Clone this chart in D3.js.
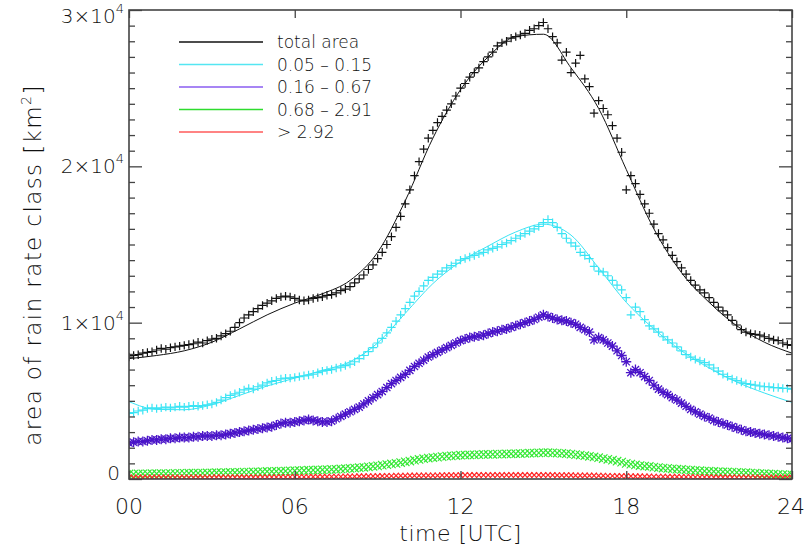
<!DOCTYPE html>
<html>
<head>
<meta charset="utf-8">
<script src="https://cdn.jsdelivr.net/npm/d3@7/dist/d3.min.js"></script>
<style>
  html, body { margin: 0; padding: 0; background: #fff; }
  svg { display: block; }
  text { font-family: "DejaVu Sans", sans-serif; font-weight: 200; fill: #111; }
</style>
</head>
<body>
<svg id="chart" width="807" height="554"></svg>
<script>
// Rain-rate class areas, sampled every 10 minutes from 00 to 24 UTC (145 samples)
const stepMinutes = 10;

const totalArea = [
  7800, 7900, 7950, 8050, 8100, 8150,
  8250, 8350, 8300, 8400, 8450, 8500,
  8550, 8600, 8650, 8750, 8700, 8850,
  8950, 9000, 9150, 9300, 9450, 9700,
  10000, 10300, 10500, 10700, 10900, 11100,
  11250, 11400, 11550, 11650, 11700, 11650,
  11550, 11450, 11400, 11450, 11550, 11600,
  11650, 11750, 11800, 11900, 12050, 12150,
  12300, 12550, 12800, 13050, 13400, 13700,
  14100, 14500, 15000, 15500, 16100, 16800,
  17600, 18500, 19400, 20300, 21100, 21800,
  22300, 22800, 23200, 23600, 24000, 24500,
  25000, 25300, 25700, 26000, 26300, 26700,
  27000, 27300, 27700, 27900, 28000, 28200,
  28300, 28400, 28500, 28700, 28800, 29000,
  29200, 28800, 28300, 27900, 26800, 27300,
  26000, 26600, 27100, 25600, 25100, 23400,
  24200, 23700, 23300, 22600, 21800, 20900,
  18500, 19400, 18900, 18200, 17600, 17000,
  16300, 15700, 15300, 14800, 14300, 13900,
  13500, 13100, 12700, 12400, 12100, 11900,
  11600, 11300, 11000, 10750, 10500, 10150,
  9850, 9550, 9400, 9300, 9250, 9200,
  9100, 9000, 8900, 8850, 8700, 8600,
  8550
];

const class005to015 = [
  4200, 4250, 4350, 4400, 4500, 4550,
  4500, 4550, 4600, 4550, 4600, 4650,
  4600, 4650, 4700, 4650, 4700, 4750,
  4800, 4900, 5050, 5200, 5350, 5450,
  5550, 5700, 5800, 5750, 5900, 6000,
  6150, 6250, 6300, 6400, 6450, 6450,
  6500, 6550, 6600, 6650, 6700, 6800,
  6900, 6950, 7000, 7100, 7150, 7250,
  7350, 7500, 7700, 7900, 8150, 8400,
  8700, 9000, 9350, 9700, 10100, 10500,
  10900, 11300, 11700, 12000, 12350, 12700,
  12900, 13100, 13300, 13500, 13650, 13800,
  14000, 14100, 14200, 14300, 14400, 14500,
  14650, 14750, 14850, 15000, 15100, 15250,
  15400, 15550, 15700, 15850, 16000, 16150,
  16400, 16600, 16400, 16100, 15700, 15400,
  15100, 14900, 14500, 14300, 14100, 13600,
  13300, 13250, 13000, 12700, 12400, 12100,
  11600, 10500, 11000, 10700, 10200, 9800,
  9600, 9400, 9100, 8900, 8700, 8450,
  8200, 7950, 7800, 7650, 7550, 7450,
  7300, 7100, 6900, 6700, 6550, 6400,
  6300, 6200, 6100, 6050, 6000, 5950,
  5900, 5900, 5850, 5850, 5800, 5800,
  5750
];

const class016to067 = [
  2300, 2350, 2400, 2400, 2450, 2500,
  2500, 2550, 2550, 2600, 2600, 2650,
  2650, 2650, 2700, 2700, 2750, 2750,
  2750, 2800, 2800, 2850, 2900, 2950,
  3000, 3050, 3100, 3150, 3200, 3250,
  3300, 3350, 3450, 3550, 3600, 3600,
  3650, 3700, 3750, 3800, 3750, 3700,
  3650, 3650, 3700, 3850, 4000, 4150,
  4300, 4450, 4600, 4800, 5000, 5200,
  5400, 5600, 5850, 6100, 6300, 6500,
  6700, 6950, 7200, 7400, 7600, 7800,
  7950, 8100, 8250, 8400, 8550, 8700,
  8850, 8950, 9050, 9100, 9150, 9200,
  9300, 9400, 9450, 9550, 9600, 9700,
  9800, 9900, 10000, 10100, 10200, 10350,
  10500, 10400, 10300, 10200, 10150, 10100,
  10000, 9900, 9700, 9550, 9400, 8900,
  9050, 8900, 8700, 8500, 8200, 7900,
  7500, 6800, 7000, 6800, 6550, 6300,
  6000, 5750, 5550, 5400, 5200, 5050,
  4850, 4650, 4450, 4300, 4150, 4000,
  3900, 3750, 3650, 3550, 3450, 3350,
  3250, 3150, 3050, 3000, 2950, 2900,
  2850, 2800, 2750, 2700, 2650, 2600,
  2550
];

const class068to291 = [
  320, 310, 320, 330, 330, 340,
  340, 350, 340, 350, 360, 360,
  360, 370, 370, 380, 380, 390,
  390, 400, 400, 410, 420, 420,
  430, 440, 440, 450, 460, 470,
  480, 480, 490, 500, 510, 520,
  530, 540, 550, 560, 570, 580,
  590, 600, 610, 620, 640, 660,
  680, 700, 720, 750, 780, 810,
  840, 880, 920, 960, 1000, 1050,
  1100, 1150, 1200, 1250, 1300, 1340,
  1370, 1400, 1430, 1460, 1480, 1500,
  1520, 1530, 1540, 1550, 1560, 1570,
  1570, 1580, 1590, 1590, 1600, 1610,
  1620, 1630, 1640, 1650, 1660, 1670,
  1680, 1680, 1670, 1660, 1640, 1620,
  1590, 1560, 1530, 1490, 1450, 1410,
  1360, 1310, 1260, 1200, 1140, 1080,
  1000, 950, 900, 860, 830, 800,
  760, 730, 700, 680, 650, 630,
  610, 590, 570, 550, 530, 510,
  500, 480, 470, 460, 450, 440,
  420, 410, 400, 380, 370, 350,
  340, 320, 310, 290, 280, 270,
  260
];

const classAbove292 = [
  90, 90, 100, 90, 90, 100,
  100, 90, 100, 100, 100, 90,
  100, 100, 100, 110, 100, 100,
  100, 110, 110, 100, 110, 110,
  110, 110, 120, 110, 120, 120,
  120, 120, 120, 130, 120, 130,
  130, 130, 130, 130, 140, 140,
  140, 140, 150, 150, 150, 160,
  160, 160, 170, 170, 180, 180,
  190, 190, 200, 200, 210, 210,
  210, 220, 220, 220, 230, 230,
  230, 230, 240, 240, 240, 240,
  240, 250, 250, 250, 250, 250,
  250, 250, 250, 250, 250, 250,
  250, 250, 250, 250, 250, 250,
  250, 250, 250, 240, 240, 240,
  240, 230, 230, 230, 220, 220,
  210, 210, 200, 200, 190, 190,
  180, 180, 170, 170, 160, 160,
  150, 150, 150, 140, 140, 140,
  130, 130, 130, 120, 120, 120,
  120, 110, 110, 110, 110, 110,
  100, 100, 100, 100, 100, 100,
  90, 90, 90, 90, 90, 90,
  90
];

// Smooth fitted curves, one value per full hour
const fitHours = [0, 1, 2, 3, 4, 5, 6, 7, 8, 9, 10, 11, 12, 13, 14, 15, 16, 17, 18, 19, 20, 21, 22, 23, 24];
const totalAreaFit = [7700, 7900, 8200, 8750, 9600, 10500, 11250, 11850, 12700, 14500, 17800, 21800,
  24900, 27000, 28300, 28450, 26300, 23700, 19800, 16000, 13200, 11300, 9800, 8750, 8050];
const class005to015Fit = [4950, 4450, 4430, 4750, 5350, 5950, 6450, 6950, 7500, 8700, 10600, 12500,
  13900, 14900, 15800, 16300, 15600, 13500, 11300, 9600, 8200, 7100, 6200, 5500, 4900];

const timeTicks = [0, 6, 12, 18, 24];
const timeTickLabels = ["00", "06", "12", "18", "24"];
const areaMajorTicks = [0, 10000, 20000, 30000];
const areaMajorMantissa = ["0", "1", "2", "3"];
const legendLabels = ["total area", "0.05 \u2013 0.15", "0.16 \u2013 0.67", "0.68 \u2013 2.91", "> 2.92"];

// ----- drawing -----
const W = 807, H = 554;
const margin = { top: 10, right: 15, bottom: 75, left: 129 };
const svg = d3.select("#chart");

const x = d3.scaleLinear().domain([0, 24]).range([margin.left, W - margin.right]);
const y = d3.scaleLinear().domain([0, 30000]).range([H - margin.bottom, margin.top]);

const times = d3.range(totalArea.length).map(i => i * stepMinutes / 60);

const plusPath = s => `M${-s},0H${s}M0,${-s}V${s}`;
const starPath = s => { const d = s * 0.72; return `M${-s},0H${s}M0,${-s}V${s}M${-d},${-d}L${d},${d}M${-d},${d}L${d},${-d}`; };
const crossPath = s => `M${-s},${-s}L${s},${s}M${-s},${s}L${s},${-s}`;

const series = [
  { values: class068to291, color: "#33e833", shape: crossPath, size: 4.2, width: 1.2 },
  { values: classAbove292, color: "#ff2626", shape: crossPath, size: 2.8, width: 1.2 },
  { values: class016to067, color: "#4a14c8", shape: starPath, size: 5, width: 1.3 },
  { values: class005to015, color: "#3ae4f4", shape: plusPath, size: 4.2, width: 1.2 },
  { values: totalArea, color: "#111", shape: plusPath, size: 4.2, width: 1.2 }
];

const plot = svg.append("g");
const clipId = "plotclip";
svg.append("clipPath").attr("id", clipId).append("rect")
  .attr("x", margin.left).attr("y", margin.top)
  .attr("width", W - margin.left - margin.right).attr("height", H - margin.top - margin.bottom);
plot.attr("clip-path", `url(#${clipId})`);

series.forEach(s => {
  plot.append("g")
    .selectAll("path")
    .data(s.values)
    .join("path")
    .attr("transform", (d, i) => `translate(${x(times[i])},${y(d)})`)
    .attr("d", s.shape(s.size))
    .attr("fill", "none")
    .attr("stroke", s.color)
    .attr("stroke-width", s.width);
});

const fitLine = d3.line().x((d, i) => x(fitHours[i])).y(d => y(d)).curve(d3.curveMonotoneX);
plot.append("path").attr("d", fitLine(class005to015Fit))
  .attr("fill", "none").attr("stroke", "#3ae4f4").attr("stroke-width", 1);
plot.append("path").attr("d", fitLine(totalAreaFit))
  .attr("fill", "none").attr("stroke", "#111").attr("stroke-width", 1);

// ----- axes -----
const axisColor = "#444";
const minorTicks = d3.range(0, 30001, 1000).filter(v => !areaMajorTicks.includes(v));
function styleAxis(g) {
  g.select(".domain").remove();
  g.selectAll("line").attr("stroke", axisColor).attr("stroke-width", 1.3);
  g.selectAll("text").remove();
}
svg.append("g").attr("transform", `translate(${margin.left},0)`)
  .call(d3.axisRight(y).tickValues(minorTicks).tickSize(6)).call(styleAxis);
svg.append("g").attr("transform", `translate(${margin.left},0)`)
  .call(d3.axisRight(y).tickValues(areaMajorTicks).tickSize(13)).call(styleAxis);
svg.append("g").attr("transform", `translate(${W - margin.right},0)`)
  .call(d3.axisLeft(y).tickValues(minorTicks).tickSize(6)).call(styleAxis);
svg.append("g").attr("transform", `translate(${W - margin.right},0)`)
  .call(d3.axisLeft(y).tickValues(areaMajorTicks).tickSize(13)).call(styleAxis);
svg.append("g").attr("transform", `translate(0,${H - margin.bottom})`)
  .call(d3.axisTop(x).tickValues(timeTicks).tickSize(8)).call(styleAxis);
svg.append("g").attr("transform", `translate(0,${margin.top})`)
  .call(d3.axisBottom(x).tickValues(timeTicks).tickSize(8)).call(styleAxis);

// frame
svg.append("rect")
  .attr("x", margin.left).attr("y", margin.top)
  .attr("width", W - margin.left - margin.right).attr("height", H - margin.top - margin.bottom)
  .attr("fill", "none").attr("stroke", axisColor).attr("stroke-width", 1.6);

// y tick labels (mantissa x 10^exponent)
const yLabels = svg.append("g");
areaMajorTicks.forEach((v, i) => {
  const cy = Math.max(margin.top + 6, Math.min(H - margin.bottom - 6, y(v)));
  const t = yLabels.append("text")
    .attr("x", margin.left - 5).attr("y", cy + 7)
    .attr("text-anchor", "end").attr("font-size", 20);
  if (v === 0) {
    t.attr("x", margin.left - 9).text(areaMajorMantissa[i]);
  } else {
    t.append("tspan").text(areaMajorMantissa[i] + "\u00d710");
    t.append("tspan").attr("font-size", 13).attr("dy", -10).text("4");
  }
});

// x tick labels
svg.append("g").selectAll("text")
  .data(timeTicks)
  .join("text")
  .attr("x", d => Math.min(x(d), W - 16)).attr("y", 514)
  .attr("text-anchor", "middle").attr("font-size", 22)
  .text((d, i) => timeTickLabels[i]);

// axis titles
svg.append("text")
  .attr("x", x(12)).attr("y", 541)
  .attr("text-anchor", "middle").attr("font-size", 22)
  .attr("letter-spacing", 0.5)
  .text("time [UTC]");

const yTitle = svg.append("text")
  .attr("transform", `translate(41,265) rotate(-90)`)
  .attr("text-anchor", "middle").attr("font-size", 23)
  .attr("letter-spacing", 1.4);
yTitle.append("tspan").text("area of rain rate class [km");
yTitle.append("tspan").attr("font-size", 14).attr("dy", -10).text("2");
yTitle.append("tspan").attr("dy", 10).text("]");

// legend
const legendColors = ["#111", "#55e6f2", "#8a5cf0", "#2edc2e", "#ff5a5a"];
const legend = svg.append("g");
legendLabels.forEach((lab, i) => {
  const ly = 42 + i * 22.5;
  legend.append("line")
    .attr("x1", 179).attr("x2", 263).attr("y1", ly).attr("y2", ly)
    .attr("stroke", legendColors[i]).attr("stroke-width", 1.5);
  legend.append("text")
    .attr("x", 277).attr("y", ly + 6)
    .attr("font-size", 17)
    .text(lab);
});
</script>
</body>
</html>
